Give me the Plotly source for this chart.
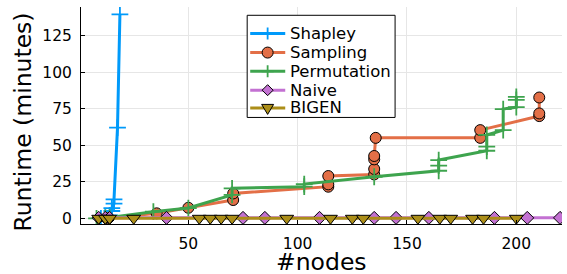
import plotly.graph_objects as go

shapley_x = [10, 12, 14, 15, 15, 16, 16, 17.6, 18.7]
shapley_y = [0, 0.5, 2, 5, 7, 10, 13, 62, 139.5]

sampling_x = [13, 35.5, 50, 70.5, 70.5, 114, 114, 114, 135, 135, 135, 135, 135.7, 183.5, 183.5, 210.5, 210.5, 210.5]
sampling_y = [0, 3.4, 7.2, 12.5, 17, 21.6, 23.2, 28.9, 30, 33.7, 40.3, 42.6, 55, 55, 60.3, 69.9, 71.7, 82.6]

perm_x = [8, 12, 14, 34, 50, 70, 70, 103, 103, 135, 164.5, 164.5, 164.5, 186.5, 186.5, 186.5, 194, 194, 200, 200, 200]
perm_y = [0, 0.3, 0.5, 4.5, 7, 16, 20.5, 21.6, 23.4, 28.4, 32.5, 36, 39.8, 46.2, 49, 57, 60.3, 74.7, 76, 81, 83]

naive_x = [9, 12, 14, 40, 75, 85, 110, 135, 145, 160, 190, 205, 220]
naive_y = [0.3, 0.3, 0.3, 0.3, 0.3, 0.3, 0.3, 0.3, 0.3, 0.3, 0.3, 0.3, 0.3]

bigen_x = [9, 12, 14, 25, 55, 60, 65, 70, 95, 115, 125, 130, 155, 165, 170, 180, 185, 200]
bigen_y = [0, 0, 0, 0, 0, 0, 0, 0, 0, 0, 0, 0, 0, 0, 0, 0, 0, 0]

x_ticks = [50, 100, 150, 200]
y_ticks = [0, 25, 50, 75, 100, 125]

series_names = ["Shapley", "Sampling", "Permutation", "Naive", "BIGEN"]
colors = ["#009AFA", "#E36F47", "#3EA44E", "#C371D2", "#AC8E18"]

FONT = "DejaVu Sans"

marker_styles = [
    dict(symbol="cross-thin", size=12, line=dict(color=colors[0], width=1.8)),
    dict(symbol="circle", size=11, color=colors[1], line=dict(color="black", width=1)),
    dict(symbol="cross-thin", size=12, line=dict(color=colors[2], width=1.8)),
    dict(symbol="diamond", size=10, color=colors[3], line=dict(color="black", width=1)),
    dict(symbol="triangle-down", size=12, color=colors[4], line=dict(color="black", width=1)),
]
data = [(shapley_x, shapley_y), (sampling_x, sampling_y), (perm_x, perm_y),
        (naive_x, naive_y), (bigen_x, bigen_y)]

fig = go.Figure()
for (xs, ys), name, col, mk in zip(data, series_names, colors, marker_styles):
    fig.add_trace(go.Scatter(x=xs, y=ys, name=name, mode="lines+markers",
                             line=dict(color=col, width=3), marker=mk, showlegend=False))

axis_common = dict(showgrid=True, gridcolor="#E6E6E6", gridwidth=1, zeroline=False, automargin=False,
                   showline=True, linecolor="black", linewidth=1, ticks="inside", ticklen=4,
                   tickcolor="black", ticklabelstandoff=5,
                   tickfont=dict(family=FONT, size=15.5, color="black"))

# ---- manual legend (paper coordinates) ----
leg_x0, leg_x1, leg_y0, leg_y1 = 0.3455, 0.6530, 0.491, 0.9618
row_y = [0.8775, 0.790, 0.704, 0.6167, 0.535]
line_x0, line_x1, mark_x, text_x = 0.3518, 0.4246, 0.3880, 0.4313

shapes = [dict(type="rect", xref="paper", yref="paper", x0=leg_x0, x1=leg_x1, y0=leg_y0, y1=leg_y1,
               line=dict(color="black", width=1), fillcolor="white", layer="above")]
annotations = []
marker_paths = [
    ("path", "M-6,0 L6,0 M0,-6 L0,6", None, colors[0], 1.8),
    ("circle", None, colors[1], "black", 1),
    ("path", "M-6,0 L6,0 M0,-6 L0,6", None, colors[2], 1.8),
    ("path", "M0,5.5 L5.5,0 L0,-5.5 L-5.5,0 Z", colors[3], "black", 1),
    ("path", "M-6,3.5 L6,3.5 L0,-6.5 Z", colors[4], "black", 1),
]
for ry, name, col, (kind, path, fill, lc, lw) in zip(row_y, series_names, colors, marker_paths):
    shapes.append(dict(type="line", xref="paper", yref="paper", x0=line_x0, x1=line_x1, y0=ry, y1=ry,
                       line=dict(color=col, width=3), layer="above"))
    s = dict(xref="paper", yref="paper", xsizemode="pixel", ysizemode="pixel",
             xanchor=mark_x, yanchor=ry, line=dict(color=lc, width=lw), layer="above")
    if kind == "circle":
        s.update(type="circle", x0=-5.5, x1=5.5, y0=-5.5, y1=5.5, fillcolor=fill)
    else:
        s.update(type="path", path=path)
        if fill:
            s["fillcolor"] = fill
    shapes.append(s)
    annotations.append(dict(text=name, xref="paper", yref="paper", x=text_x, y=ry,
                            xanchor="left", yanchor="middle", showarrow=False,
                            font=dict(family=FONT, size=16.5, color="black")))

annotations += [
    dict(text="#nodes", xref="paper", yref="paper", x=0.5, y=-0.175,
         xanchor="center", yanchor="middle", showarrow=False,
         font=dict(family=FONT, size=23.5, color="black")),
    dict(text="Runtime (minutes)", xref="paper", yref="paper", x=-0.1199, y=0.469,
         xanchor="center", yanchor="middle", showarrow=False, textangle=-90,
         font=dict(family=FONT, size=23.5, color="black")),
]

fig.update_layout(
    width=567, height=274,
    margin=dict(l=81, r=5, t=7, b=50),
    paper_bgcolor="white", plot_bgcolor="white",
    font=dict(family=FONT, color="black"),
    xaxis=dict(range=[0.9, 220.9], tickvals=x_ticks, **axis_common),
    yaxis=dict(range=[-3.9, 144.5], tickvals=y_ticks, **axis_common),
    showlegend=False,
    shapes=shapes,
    annotations=annotations,
)

fig.write_html("out.html", config={"displayModeBar": False},
               post_script="document.body.style.margin='0';document.body.style.padding='0';")
